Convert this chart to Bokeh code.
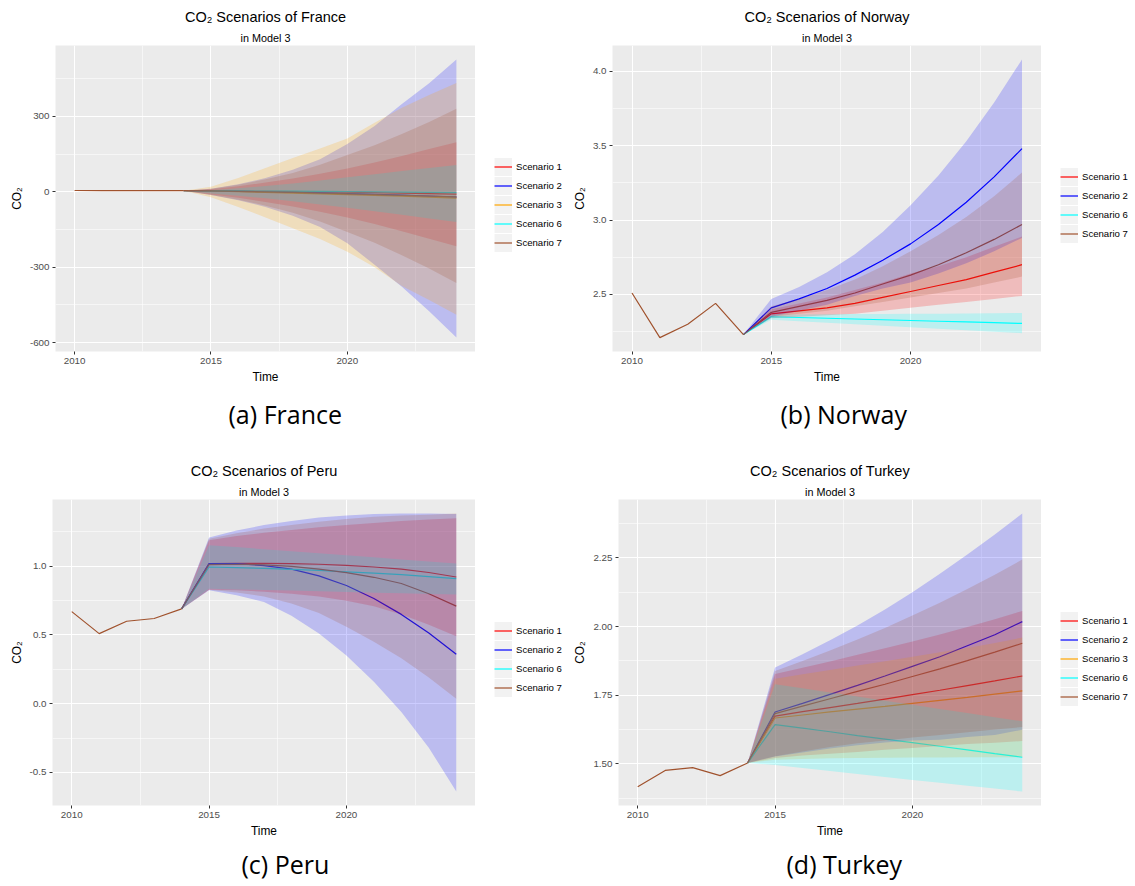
from bokeh.plotting import figure
from bokeh.models import FixedTicker, Legend, LegendItem, Range1d, Title
from bokeh.layouts import row, column
from bokeh.embed import file_html
from bokeh.resources import INLINE

# ---------------- data ----------------
hist_years = [2010, 2011, 2012, 2013, 2014]
fc_years = [2015, 2016, 2017, 2018, 2019, 2020, 2021, 2022, 2023, 2024]
x_ticks = [2010, 2015, 2020]
x_minor = [2012.5, 2017.5, 2022.5]

# France
fr_hist = [5.4, 5.2, 5.1, 5.1, 4.6]
fr_s1_mean = [4, 3, 2, 1, 0, -1, -3, -5, -7, -9]
fr_s1_hi = [10, 22, 37, 53, 72, 93, 117, 143, 170, 197]
fr_s1_lo = [-11, -24, -40, -58, -79, -102, -128, -157, -187, -217]
fr_s2_mean = [4, 2, 0, -2, -4, -7, -10, -13, -17, -21]
fr_s2_hi = [12, 30, 55, 88, 130, 190, 262, 350, 432, 527]
fr_s2_lo = [-13, -33, -60, -95, -140, -205, -290, -378, -475, -580]
fr_s3_mean = [4, 1, -2, -5, -8, -11, -14, -17, -21, -25]
fr_s3_hi = [20, 55, 95, 135, 172, 212, 275, 335, 385, 433]
fr_s3_lo = [-22, -60, -102, -145, -188, -238, -300, -375, -430, -489]
fr_s6_mean = [4, 3.5, 3, 2.5, 2, 1, 0, -1, -2, -3]
fr_s6_hi = [6, 14, 23, 33, 45, 58, 70, 83, 95, 107]
fr_s6_lo = [-7, -16, -26, -37, -50, -63, -77, -91, -106, -120]
fr_s7_mean = [4, 2, 0, -2, -5, -8, -11, -14, -17, -20]
fr_s7_hi = [12, 28, 50, 75, 108, 147, 185, 230, 278, 331]
fr_s7_lo = [-13, -31, -55, -83, -118, -160, -203, -252, -305, -363]
fr_y_ticks = [-600, -300, 0, 300]
fr_y_minor = [-450, -150, 150, 450]
fr_y_labels = ["-600", "-300", "0", "300"]

# Norway
no_hist = [2.51, 2.21, 2.30, 2.44, 2.23]
no_s1_mean = [2.37, 2.39, 2.41, 2.44, 2.48, 2.52, 2.56, 2.60, 2.65, 2.70]
no_s1_hi = [2.40, 2.44, 2.48, 2.53, 2.58, 2.64, 2.69, 2.75, 2.82, 2.89]
no_s1_lo = [2.34, 2.35, 2.36, 2.37, 2.39, 2.41, 2.43, 2.45, 2.47, 2.49]
no_s2_mean = [2.41, 2.47, 2.54, 2.63, 2.73, 2.84, 2.97, 3.12, 3.29, 3.48]
no_s2_hi = [2.47, 2.55, 2.65, 2.77, 2.92, 3.10, 3.30, 3.53, 3.79, 4.08]
no_s2_lo = [2.35, 2.39, 2.43, 2.49, 2.54, 2.58, 2.64, 2.71, 2.79, 2.88]
no_s6_mean = [2.35, 2.345, 2.34, 2.335, 2.33, 2.325, 2.32, 2.315, 2.31, 2.305]
no_s6_hi = [2.365, 2.366, 2.367, 2.368, 2.369, 2.370, 2.371, 2.372, 2.373, 2.375]
no_s6_lo = [2.33, 2.32, 2.31, 2.30, 2.29, 2.28, 2.27, 2.26, 2.25, 2.24]
no_s7_mean = [2.38, 2.42, 2.46, 2.51, 2.57, 2.63, 2.70, 2.78, 2.87, 2.97]
no_s7_hi = [2.42, 2.47, 2.53, 2.60, 2.69, 2.79, 2.90, 3.02, 3.16, 3.32]
no_s7_lo = [2.35, 2.37, 2.39, 2.42, 2.45, 2.48, 2.51, 2.54, 2.58, 2.62]
no_y_ticks = [2.5, 3.0, 3.5, 4.0]
no_y_minor = [2.25, 2.75, 3.25, 3.75]
no_y_labels = ["2.5", "3.0", "3.5", "4.0"]

# Peru
pe_hist = [0.67, 0.51, 0.60, 0.62, 0.69]
pe_s1_mean = [1.02, 1.022, 1.022, 1.02, 1.015, 1.007, 0.995, 0.98, 0.955, 0.922]
pe_s1_hi = [1.19, 1.22, 1.245, 1.265, 1.285, 1.30, 1.315, 1.33, 1.34, 1.35]
pe_s1_lo = [0.83, 0.825, 0.815, 0.80, 0.78, 0.75, 0.71, 0.65, 0.575, 0.49]
pe_s2_mean = [1.02, 1.02, 1.005, 0.98, 0.93, 0.86, 0.765, 0.65, 0.515, 0.36]
pe_s2_hi = [1.21, 1.26, 1.30, 1.33, 1.355, 1.37, 1.38, 1.385, 1.385, 1.38]
pe_s2_lo = [0.825, 0.79, 0.74, 0.64, 0.51, 0.35, 0.16, -0.06, -0.32, -0.64]
pe_s6_mean = [0.995, 0.99, 0.985, 0.978, 0.97, 0.96, 0.95, 0.94, 0.925, 0.91]
pe_s6_hi = [1.153, 1.14, 1.125, 1.11, 1.095, 1.08, 1.065, 1.05, 1.035, 1.02]
pe_s6_lo = [0.837, 0.832, 0.828, 0.823, 0.818, 0.813, 0.808, 0.803, 0.798, 0.794]
pe_s7_mean = [1.012, 1.015, 1.01, 1.0, 0.98, 0.954, 0.92, 0.875, 0.80, 0.71]
pe_s7_hi = [1.20, 1.24, 1.275, 1.30, 1.325, 1.345, 1.36, 1.37, 1.375, 1.385]
pe_s7_lo = [0.83, 0.81, 0.78, 0.73, 0.66, 0.56, 0.45, 0.33, 0.19, 0.036]
pe_y_ticks = [-0.5, 0.0, 0.5, 1.0]
pe_y_minor = [-0.75, -0.25, 0.25, 0.75, 1.25]
pe_y_labels = ["-0.5", "0.0", "0.5", "1.0"]

# Turkey
tu_hist = [1.417, 1.476, 1.486, 1.457, 1.503]
tu_s1_mean = [1.674, 1.69, 1.705, 1.72, 1.736, 1.752, 1.768, 1.785, 1.802, 1.82]
tu_s1_hi = [1.827, 1.85, 1.873, 1.897, 1.921, 1.946, 1.971, 1.998, 2.027, 2.057]
tu_s1_lo = [1.521, 1.53, 1.537, 1.543, 1.551, 1.558, 1.565, 1.572, 1.577, 1.583]
tu_s2_mean = [1.689, 1.72, 1.753, 1.786, 1.82, 1.855, 1.89, 1.93, 1.97, 2.018]
tu_s2_hi = [1.851, 1.899, 1.95, 2.004, 2.062, 2.125, 2.192, 2.262, 2.335, 2.412]
tu_s2_lo = [1.527, 1.541, 1.556, 1.568, 1.578, 1.585, 1.588, 1.598, 1.605, 1.624]
tu_s3_mean = [1.667, 1.678, 1.689, 1.699, 1.709, 1.72, 1.731, 1.742, 1.754, 1.766]
tu_s3_hi = [1.81, 1.826, 1.842, 1.858, 1.874, 1.89, 1.906, 1.922, 1.94, 1.96]
tu_s3_lo = [1.515, 1.518, 1.52, 1.521, 1.522, 1.523, 1.523, 1.524, 1.524, 1.524]
tu_s6_mean = [1.643, 1.63, 1.617, 1.603, 1.59, 1.577, 1.564, 1.551, 1.537, 1.524]
tu_s6_hi = [1.79, 1.775, 1.76, 1.745, 1.73, 1.715, 1.70, 1.685, 1.67, 1.655]
tu_s6_lo = [1.496, 1.485, 1.474, 1.463, 1.452, 1.441, 1.431, 1.42, 1.41, 1.399]
tu_s7_mean = [1.683, 1.71, 1.737, 1.764, 1.79, 1.818, 1.846, 1.876, 1.907, 1.939]
tu_s7_hi = [1.838, 1.875, 1.913, 1.953, 1.995, 2.04, 2.087, 2.137, 2.189, 2.244]
tu_s7_lo = [1.528, 1.545, 1.561, 1.575, 1.585, 1.596, 1.605, 1.615, 1.625, 1.634]
tu_y_ticks = [1.5, 1.75, 2.0, 2.25]
tu_y_minor = [1.375, 1.625, 1.875, 2.125, 2.375]
tu_y_labels = ["1.50", "1.75", "2.00", "2.25"]

# ---------------- style ----------------
COLORS = {"Scenario 1": "#FF0000", "Scenario 2": "#0000FF", "Scenario 3": "#FFA500",
          "Scenario 6": "#00FFFF", "Scenario 7": "#A0522D"}
HIST_COLOR = "#A0522D"
FONT = "Liberation Sans"
CAP_FONT = "Open Sans"


def make_panel(country, caption, hist, scens, yticks, yminor, ylabels, geo):
    left, fw, top, fh, bottom, cap_off, cap_standoff = geo
    allv = list(hist)
    for _, m, lo, hi in scens:
        allv += lo + hi + m
    vmin, vmax = min(allv), max(allv)
    pad = 0.05 * (vmax - vmin)
    p = figure(frame_width=fw, frame_height=fh,
               x_range=Range1d(2009.3, 2024.7), y_range=Range1d(vmin - pad, vmax + pad),
               output_backend="svg", toolbar_location=None, title=None,
               min_border_left=left, min_border_right=0,
               min_border_top=top, min_border_bottom=bottom)
    p.background_fill_color = "#EBEBEB"
    p.border_fill_color = "white"
    p.outline_line_color = None

    p.xaxis.ticker = FixedTicker(ticks=x_ticks, minor_ticks=x_minor)
    p.yaxis.ticker = FixedTicker(ticks=yticks, minor_ticks=yminor)
    p.yaxis.major_label_overrides = {t: s for t, s in zip(yticks, ylabels)}
    for ax in (p.xaxis, p.yaxis):
        ax.axis_line_color = None
        ax.minor_tick_line_color = None
        ax.major_tick_line_color = "#333333"
        ax.major_tick_in = 0
        ax.major_tick_out = 3
        ax.major_label_standoff = 2
        ax.major_label_text_font = FONT
        ax.major_label_text_font_size = "9.8px"
        ax.major_label_text_color = "#4D4D4D"
        ax.axis_label_text_font = FONT
        ax.axis_label_text_font_size = "11.9px"
        ax.axis_label_text_font_style = "normal"
        ax.axis_label_text_color = "black"
    p.xaxis.axis_label = "Time"
    p.xaxis.axis_label_standoff = 3
    p.yaxis.axis_label = "CO\u2082"
    p.yaxis.axis_label_standoff = 3
    for g in (p.xgrid, p.ygrid):
        g.grid_line_color = "white"
        g.grid_line_width = 1.1
        g.minor_grid_line_color = "white"
        g.minor_grid_line_width = 0.55

    xs = [hist_years[-1]] + fc_years
    for name, m, lo, hi in scens:
        p.line(xs, [hist[-1]] + m, line_color=COLORS[name], line_width=1.2)
    for name, m, lo, hi in scens:
        p.varea(x=xs, y1=[hist[-1]] + lo, y2=[hist[-1]] + hi,
                fill_color=COLORS[name], fill_alpha=0.2)
    p.line(hist_years, hist, line_color=HIST_COLOR, line_width=1.2)

    p.add_layout(Title(text="in Model 3", align="center", text_font=FONT,
                       text_font_size="10.8px", text_font_style="normal",
                       text_color="black", standoff=4), "above")
    p.add_layout(Title(text="CO\u2082 Scenarios of " + country, align="center", text_font=FONT,
                       text_font_size="14.5px", text_font_style="normal",
                       text_color="black", standoff=6), "above")
    p.add_layout(Title(text=caption, align="left", offset=cap_off, text_font=CAP_FONT,
                       text_font_size="25px", text_font_style="normal",
                       text_color="black", standoff=cap_standoff), "below")
    return p


def make_legend(scens, width, height, vy):
    # a small legend-only figure; its renderers lie outside its (invisible) ranges
    lg = figure(width=width, height=height, x_range=Range1d(0, 1), y_range=Range1d(0, 1),
                x_axis_type=None, y_axis_type=None, output_backend="svg",
                toolbar_location=None, title=None, min_border=0)
    lg.outline_line_color = None
    lg.background_fill_color = "white"
    lg.border_fill_color = "white"
    off = [-10, -9]
    key = lg.line(x=off, y=off, line_color="#F2F2F2", line_width=18, line_cap="butt")
    items = []
    for name, *_ in scens:
        r = lg.line(x=off, y=off, line_color=COLORS[name], line_width=1.2)
        items.append(LegendItem(label=name, renderers=[key, r]))
    legend = Legend(items=items, location=(19, vy), orientation="vertical",
                    glyph_width=18, glyph_height=19, label_height=19, spacing=0,
                    padding=0, margin=0, label_standoff=4,
                    border_line_color=None, background_fill_alpha=0,
                    label_text_font=FONT, label_text_font_size="9.6px",
                    label_text_color="black")
    lg.add_layout(legend)
    return lg


fr_scens = [("Scenario 1", fr_s1_mean, fr_s1_lo, fr_s1_hi),
            ("Scenario 2", fr_s2_mean, fr_s2_lo, fr_s2_hi),
            ("Scenario 3", fr_s3_mean, fr_s3_lo, fr_s3_hi),
            ("Scenario 6", fr_s6_mean, fr_s6_lo, fr_s6_hi),
            ("Scenario 7", fr_s7_mean, fr_s7_lo, fr_s7_hi)]
no_scens = [("Scenario 1", no_s1_mean, no_s1_lo, no_s1_hi),
            ("Scenario 2", no_s2_mean, no_s2_lo, no_s2_hi),
            ("Scenario 6", no_s6_mean, no_s6_lo, no_s6_hi),
            ("Scenario 7", no_s7_mean, no_s7_lo, no_s7_hi)]
pe_scens = [("Scenario 1", pe_s1_mean, pe_s1_lo, pe_s1_hi),
            ("Scenario 2", pe_s2_mean, pe_s2_lo, pe_s2_hi),
            ("Scenario 6", pe_s6_mean, pe_s6_lo, pe_s6_hi),
            ("Scenario 7", pe_s7_mean, pe_s7_lo, pe_s7_hi)]
tu_scens = [("Scenario 1", tu_s1_mean, tu_s1_lo, tu_s1_hi),
            ("Scenario 2", tu_s2_mean, tu_s2_lo, tu_s2_hi),
            ("Scenario 3", tu_s3_mean, tu_s3_lo, tu_s3_hi),
            ("Scenario 6", tu_s6_mean, tu_s6_lo, tu_s6_hi),
            ("Scenario 7", tu_s7_mean, tu_s7_lo, tu_s7_hi)]

# geometry: left, frame_w, top, frame_h, bottom, caption_offset, caption_standoff
p1 = make_panel("France", "(a) France", fr_hist, fr_scens, fr_y_ticks, fr_y_minor, fr_y_labels,
                (55, 420, 45, 306, 103, 173, 16))
l1 = make_legend(fr_scens, 92, 454, 99)
p2 = make_panel("Norway", "(b) Norway", no_hist, no_scens, no_y_ticks, no_y_minor, no_y_labels,
                (45, 429, 45, 306, 103, 168, 16))
l2 = make_legend(no_scens, 94, 454, 108)
p3 = make_panel("Peru", "(c) Peru", pe_hist, pe_scens, pe_y_ticks, pe_y_minor, pe_y_labels,
                (52, 423, 45, 306, 81, 189, 8))
l3 = make_legend(pe_scens, 92, 432, 108)
p4 = make_panel("Turkey", "(d) Turkey", tu_hist, tu_scens, tu_y_ticks, tu_y_minor, tu_y_labels,
                (51, 423, 45, 306, 81, 168, 8))
l4 = make_legend(tu_scens, 94, 432, 99)

layout = column(row(p1, l1, p2, l2), row(p3, l3, p4, l4))
open("out.html", "w").write(file_html(layout, INLINE))
